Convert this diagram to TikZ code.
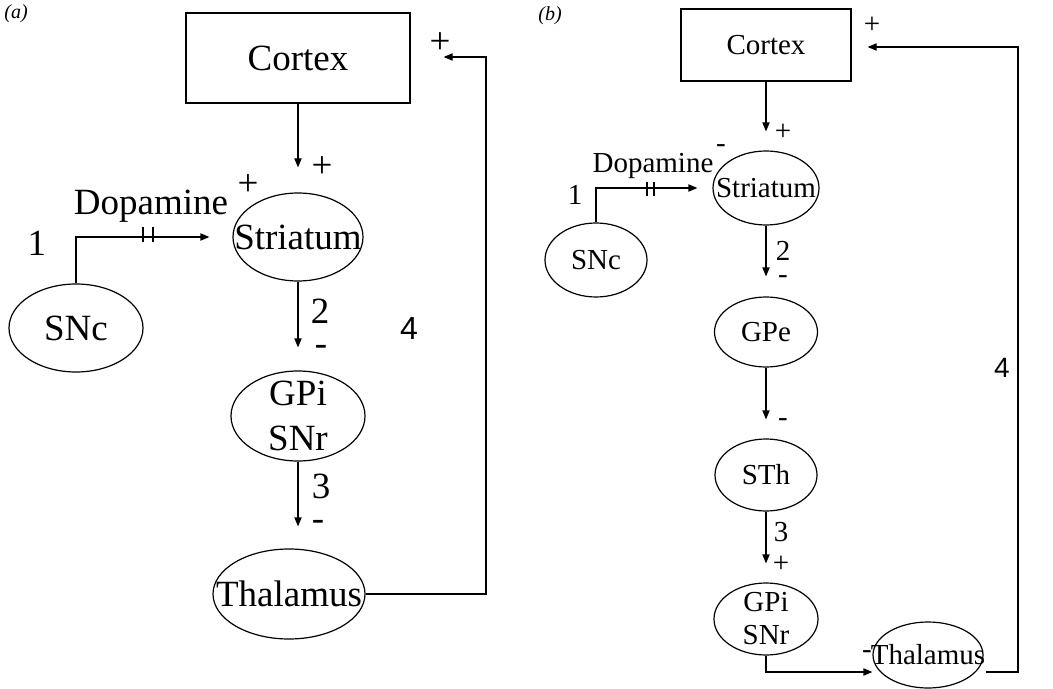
\documentclass[tikz,border=0pt]{standalone}
\usepackage{fontspec}
\setmainfont{Liberation Serif}
\newfontfamily\numsans{Liberation Sans}
\usetikzlibrary{shapes.geometric,arrows.meta}

\tikzset{
    area box/.style={
      draw=black,
      line width=0.6pt,
      inner sep=0pt
    },
    area oval/.style={
      draw=black,
      ellipse,
      line width=0.6pt,
      inner sep=0pt
    },
    path arrow/.style={
      -{Triangle[length=4.5pt,width=3.6pt]},
      line width=0.6pt
    },
    plain line/.style={
      line width=0.6pt
    },
    tag label/.style={
      inner sep=0pt
    },
    big text/.style={
      font=\fontsize{18.5}{22.5}\selectfont
    },
    small text/.style={
      font=\fontsize{14.5}{16.5}\selectfont
    },
    panel tag/.style={
      inner sep=0pt,
      font=\fontsize{10}{12}\selectfont\itshape
    }
  }

\begin{document}
\begin{tikzpicture}[x=0.5pt,y=-0.5pt]
      \useasboundingbox (0,0) rectangle (1053,689);

      % (a) ノード
      \node[area box, big text, minimum width=112pt, minimum height=45pt] (cortexA) at (298,58) {Cortex};
      \node[area oval, minimum width=65pt, minimum height=44pt, label={[big text]center:Striatum}] (striatumA) at (298,237) {};
      \node[area oval, minimum width=67pt, minimum height=44pt, label={[big text]center:SNc}] (sncA) at (76,328) {};
      \node[area oval, minimum width=67pt, minimum height=45pt, label={[big text, align=center]center:GPi\\SNr}] (gpiA) at (298,416) {};
      \node[area oval, minimum width=76pt, minimum height=45pt, label={[big text]center:Thalamus}] (thalamusA) at (289,594) {};

      % (a) 矢印
      \draw[path arrow, shorten >=12.5pt] (cortexA.south) -- (striatumA.north);
      \draw[path arrow, shorten >=11.5pt] (striatumA.south) -- (gpiA.north);
      \draw[path arrow, shorten >=11pt] (gpiA.south) -- (gpiA.south |- thalamusA.north);
      \draw[path arrow, shorten >=11.5pt] (sncA.north) |- (striatumA.west);
      \foreach \bx in {143,153}
        \draw[plain line] (\bx,227) -- (\bx,242);
      \coordinate (fbA) at (486,57);
      \draw[path arrow, shorten >=16.5pt] (thalamusA.east) -| (fbA) -- (fbA -| cortexA.east);

      % (a) ラベル
      \node[panel tag] (tagA) at (16,14) {(a)};
      \node[tag label, big text] (plusCortexA) at (322,167) {+};
      \node[tag label, big text] (plusDopA) at (248,185) {+};
      \node[tag label, big text] (dopaA) at (151,206) {Dopamine};
      \node[tag label, big text] (oneA) at (37,243) {1};
      \node[tag label, big text] (twoA) at (320,311) {2};
      \node[tag label, big text] (minusTwoA) at (321,350) {-};
      \node[tag label, big text] (threeA) at (321,486) {3};
      \node[tag label, big text] (minusThreeA) at (318,525) {-};
      \node[tag label, font=\fontsize{16}{18}\numsans] (fourA) at (409,328) {4};
      \node[tag label, big text] (plusFbA) at (440,43) {+};

      % (b) ノード
      \node[area box, small text, minimum width=85pt, minimum height=36pt] (cortexB) at (766,45) {Cortex};
      \node[area oval, minimum width=53pt, minimum height=37pt, label={[small text]center:Striatum}] (striatumB) at (766,188) {};
      \node[area oval, minimum width=51pt, minimum height=37pt, label={[small text]center:SNc}] (sncB) at (596,260) {};
      \node[area oval, minimum width=51.5pt, minimum height=35pt, label={[small text]center:GPe}] (gpeB) at (766,332) {};
      \node[area oval, minimum width=51pt, minimum height=36pt, label={[small text]center:STh}] (sthB) at (766,475) {};
      \node[area oval, minimum width=52pt, minimum height=36pt, label={[small text, align=center]center:GPi\\SNr}] (gpiB) at (766,619) {};
      \node[area oval, minimum width=55pt, minimum height=33pt, label={[small text]center:Thalamus}] (thalamusB) at (928,655) {};

      % (b) 矢印
      \draw[path arrow, shorten >=9.5pt] (cortexB.south) -- (striatumB.north);
      \draw[path arrow, shorten >=10pt] (striatumB.south) -- (gpeB.north);
      \draw[path arrow, shorten >=9.5pt] (gpeB.south) -- (sthB.north);
      \draw[path arrow, shorten >=9.5pt] (sthB.south) -- (gpiB.north);
      \draw[path arrow, shorten >=7.5pt] (sncB.north) |- (striatumB.west);
      \foreach \bx in {647,654}
        \draw[plain line] (\bx,182) -- (\bx,196);
      \draw[path arrow] (gpiB.south) |- ([yshift=-8.5pt]thalamusB.west);
      \coordinate (fbB) at (1018,47);
      \draw[path arrow, shorten >=8pt] ([xshift=1pt,yshift=-8.5pt]thalamusB.east) -| (fbB) -- (fbB -| cortexB.east);

      % (b) ラベル
      \node[panel tag] (tagB) at (550,16) {(b)};
      \node[tag label, small text] (plusFbB) at (872,25) {+};
      \node[tag label, small text] (plusCortexB) at (783,132) {+};
      \node[tag label, small text] (minusDopB) at (721,149) {-};
      \node[tag label, small text] (dopaB) at (653,166) {Dopamine};
      \node[tag label, small text] (oneB) at (575,195) {1};
      \node[tag label, small text] (twoB) at (783,251) {2};
      \node[tag label, small text] (minusTwoB) at (783,280) {-};
      \node[tag label, small text] (minusGpeB) at (783,423) {-};
      \node[tag label, small text] (threeB) at (781,532) {3};
      \node[tag label, small text] (plusThreeB) at (781,564) {+};
      \node[tag label, small text] (minusThalB) at (867,655) {-};
      \node[tag label, font=\fontsize{14}{16}\numsans] (fourB) at (1002,368) {4};
    \end{tikzpicture}
\end{document}
